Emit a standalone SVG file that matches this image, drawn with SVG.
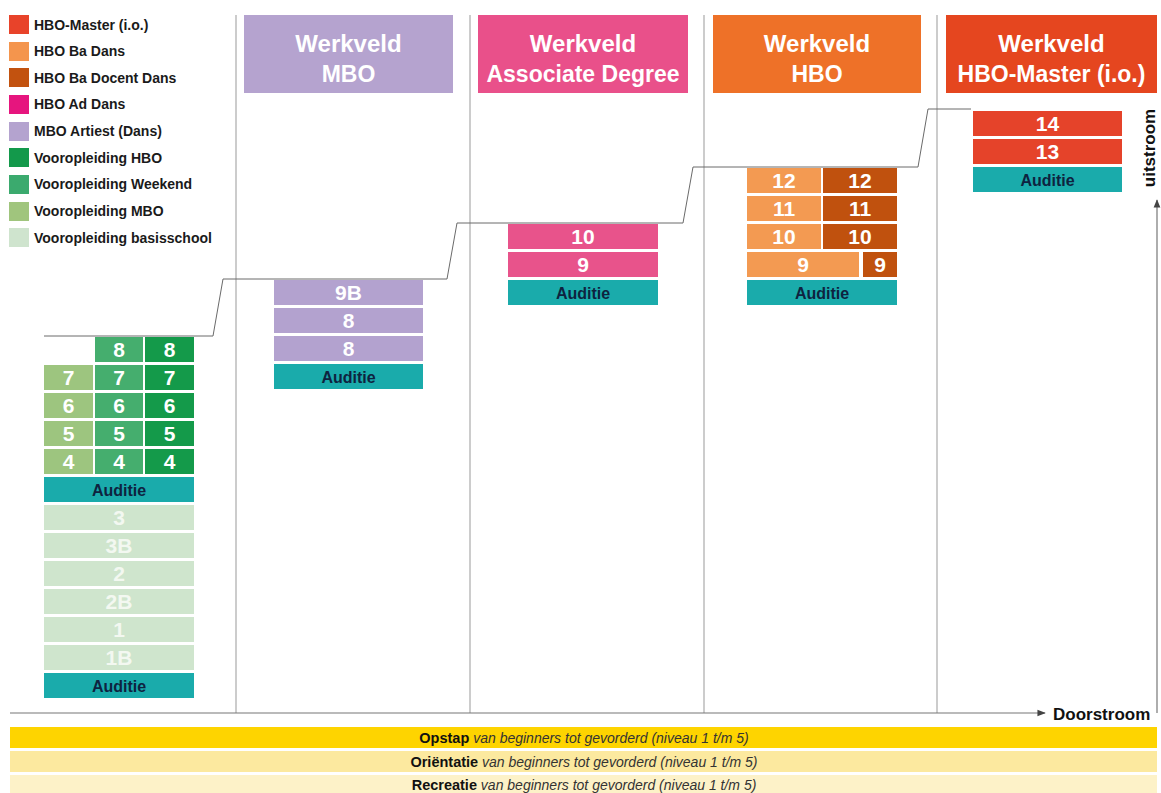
<svg xmlns="http://www.w3.org/2000/svg" width="1161" height="793" viewBox="0 0 1161 793">
<defs>
<style>
text{font-family:"Liberation Sans",Arial,sans-serif}
.lg{font-size:14px;font-weight:bold;fill:#1a1a1a}
.hd{font-size:23px;font-weight:bold;fill:#fff;text-anchor:middle}
.hw{font-size:24px}
.num{font-size:21px;font-weight:bold;fill:#fff;text-anchor:middle}
.numl{font-size:21px;font-weight:bold;fill:#f3f8f1;text-anchor:middle}
.aud{font-size:16px;font-weight:bold;fill:#0e2340;text-anchor:middle}
.teal{fill:#1aabab}
.div{stroke:#999;stroke-width:1;fill:none}
.step{stroke:#6a6a6a;stroke-width:1;fill:none}
.axis{stroke:#777;stroke-width:1.2;fill:none}
.bt{font-size:14.5px;text-anchor:middle;fill:#111}
.bt tspan.i{font-style:italic;font-weight:normal;fill:#333;font-size:14px}
</style>
<marker id="ah" viewBox="0 0 10 10" refX="9" refY="5" markerWidth="7" markerHeight="7" orient="auto">
<path d="M0,1 L10,5 L0,9 z" fill="#444"/>
</marker>
</defs>
<rect width="1161" height="793" fill="#fff"/>

<g id="legend">
<rect x="9" y="15" width="20" height="19" fill="#e8432a"/><text class="lg" x="34" y="30">HBO-Master (i.o.)</text>
<rect x="9" y="42" width="20" height="19" fill="#f4954d"/><text class="lg" x="34" y="56">HBO Ba Dans</text>
<rect x="9" y="68" width="20" height="19" fill="#c2520f"/><text class="lg" x="34" y="83">HBO Ba Docent Dans</text>
<rect x="9" y="95" width="20" height="19" fill="#e6157e"/><text class="lg" x="34" y="109">HBO Ad Dans</text>
<rect x="9" y="122" width="20" height="19" fill="#b4a3cf"/><text class="lg" x="34" y="136">MBO Artiest (Dans)</text>
<rect x="9" y="148" width="20" height="19" fill="#13994b"/><text class="lg" x="34" y="163">Vooropleiding HBO</text>
<rect x="9" y="175" width="20" height="19" fill="#3baa6e"/><text class="lg" x="34" y="189">Vooropleiding Weekend</text>
<rect x="9" y="202" width="20" height="19" fill="#a0c57d"/><text class="lg" x="34" y="216">Vooropleiding MBO</text>
<rect x="9" y="228" width="20" height="19" fill="#cfe4ce"/><text class="lg" x="34" y="243">Vooropleiding basisschool</text>
</g>

<g id="dividers">
<line class="div" x1="236" y1="15" x2="236" y2="713"/>
<line class="div" x1="470" y1="15" x2="470" y2="713"/>
<line class="div" x1="704" y1="15" x2="704" y2="713"/>
<line class="div" x1="937" y1="15" x2="937" y2="713"/>
</g>

<g id="header-mbo">
<rect x="244" y="15" width="209" height="78" fill="#b5a3cf"/>
<text class="hd hw" x="348.5" y="52">Werkveld</text><text class="hd" x="348.5" y="82">MBO</text>
</g>
<g id="header-ad">
<rect x="478" y="15" width="210" height="78" fill="#e9508a"/>
<text class="hd hw" x="583" y="52">Werkveld</text><text class="hd" x="583" y="82">Associate Degree</text>
</g>
<g id="header-hbo">
<rect x="713" y="15" width="208" height="78" fill="#ee7128"/>
<text class="hd hw" x="817" y="52">Werkveld</text><text class="hd" x="817" y="82">HBO</text>
</g>
<g id="header-master">
<rect x="946" y="15" width="211" height="78" fill="#e5461f"/>
<text class="hd hw" x="1051.5" y="52">Werkveld</text><text class="hd" x="1051.5" y="82">HBO-Master (i.o.)</text>
</g>

<g id="connectors">
<polyline class="step" points="44,336 213,336 223,279 447,279 457,223 683,223 693,167 918,167 928,109 971,109"/>
<line class="axis" x1="10" y1="713" x2="1045" y2="713" marker-end="url(#ah)"/>
<line class="axis" x1="1157" y1="713" x2="1157" y2="200" marker-end="url(#ah)"/>
</g>

<g id="stack-vooropleiding">
<g fill="#45ae6e">
<rect x="95" y="337" width="48" height="25"/><rect x="95" y="365" width="48" height="25"/><rect x="95" y="393" width="48" height="25"/><rect x="95" y="421" width="48" height="25"/><rect x="95" y="449" width="48" height="25"/>
</g>
<g fill="#149a4a">
<rect x="145" y="337" width="49" height="25"/><rect x="145" y="365" width="49" height="25"/><rect x="145" y="393" width="49" height="25"/><rect x="145" y="421" width="49" height="25"/><rect x="145" y="449" width="49" height="25"/>
</g>
<g fill="#9dc57f">
<rect x="44" y="365" width="49" height="25"/><rect x="44" y="393" width="49" height="25"/><rect x="44" y="421" width="49" height="25"/><rect x="44" y="449" width="49" height="25"/>
</g>
<text class="num" x="119" y="357">8</text><text class="num" x="169.5" y="357">8</text>
<text class="num" x="68.5" y="385">7</text><text class="num" x="119" y="385">7</text><text class="num" x="169.5" y="385">7</text>
<text class="num" x="68.5" y="413">6</text><text class="num" x="119" y="413">6</text><text class="num" x="169.5" y="413">6</text>
<text class="num" x="68.5" y="441">5</text><text class="num" x="119" y="441">5</text><text class="num" x="169.5" y="441">5</text>
<text class="num" x="68.5" y="469">4</text><text class="num" x="119" y="469">4</text><text class="num" x="169.5" y="469">4</text>
<rect class="teal" x="44" y="477" width="150" height="25"/><text class="aud" x="119" y="495.5">Auditie</text>
</g>

<g id="stack-basisschool">
<g fill="#cfe5cd">
<rect x="44" y="505" width="150" height="25"/><rect x="44" y="533" width="150" height="25"/><rect x="44" y="561" width="150" height="25"/><rect x="44" y="589" width="150" height="25"/><rect x="44" y="617" width="150" height="25"/><rect x="44" y="645" width="150" height="25"/>
</g>
<text class="numl" x="119" y="525">3</text>
<text class="numl" x="119" y="553">3B</text>
<text class="numl" x="119" y="581">2</text>
<text class="numl" x="119" y="609">2B</text>
<text class="numl" x="119" y="637">1</text>
<text class="numl" x="119" y="665">1B</text>
<rect class="teal" x="44" y="673" width="150" height="25"/><text class="aud" x="119" y="691.5">Auditie</text>
</g>

<g id="stack-mbo">
<g fill="#b3a2cf">
<rect x="274" y="280" width="149" height="25"/><rect x="274" y="308" width="149" height="25"/><rect x="274" y="336" width="149" height="25"/>
</g>
<text class="num" x="348.5" y="300">9B</text>
<text class="num" x="348.5" y="328">8</text>
<text class="num" x="348.5" y="356">8</text>
<rect class="teal" x="274" y="364" width="149" height="25"/><text class="aud" x="348.5" y="382.5">Auditie</text>
</g>

<g id="stack-ad">
<g fill="#e8538b">
<rect x="508" y="224" width="150" height="25"/><rect x="508" y="252" width="150" height="25"/>
</g>
<text class="num" x="583" y="244">10</text>
<text class="num" x="583" y="272">9</text>
<rect class="teal" x="508" y="280" width="150" height="25"/><text class="aud" x="583" y="298.5">Auditie</text>
</g>

<g id="stack-hbo">
<g fill="#f39a52">
<rect x="747" y="168" width="74" height="25"/><rect x="747" y="196" width="74" height="25"/><rect x="747" y="224" width="74" height="25"/><rect x="747" y="252" width="112" height="25"/>
</g>
<g fill="#c0510e">
<rect x="823" y="168" width="74" height="25"/><rect x="823" y="196" width="74" height="25"/><rect x="823" y="224" width="74" height="25"/><rect x="863" y="252" width="34" height="25"/>
</g>
<text class="num" x="784" y="188">12</text><text class="num" x="860" y="188">12</text>
<text class="num" x="784" y="216">11</text><text class="num" x="860" y="216">11</text>
<text class="num" x="784" y="244">10</text><text class="num" x="860" y="244">10</text>
<text class="num" x="803" y="272">9</text><text class="num" x="880" y="272">9</text>
<rect class="teal" x="747" y="280" width="150" height="25"/><text class="aud" x="822" y="298.5">Auditie</text>
</g>

<g id="stack-master">
<g fill="#e5432a">
<rect x="973" y="111" width="149" height="25"/><rect x="973" y="139" width="149" height="25"/>
</g>
<text class="num" x="1047.5" y="131">14</text>
<text class="num" x="1047.5" y="159">13</text>
<rect class="teal" x="973" y="167" width="149" height="25"/><text class="aud" x="1047.5" y="185.5">Auditie</text>
</g>

<g id="axis-labels">
<text x="1053" y="720" font-size="17" font-weight="bold" fill="#111">Doorstroom</text>
<text transform="translate(1155,148) rotate(-90)" font-size="17" font-weight="bold" fill="#111" text-anchor="middle">uitstroom</text>
</g>

<g id="bar-opstap">
<rect x="10" y="727" width="1147" height="21" fill="#fed400"/>
<text class="bt" x="584" y="743"><tspan font-weight="bold">Opstap</tspan><tspan class="i"> van beginners tot gevorderd (niveau 1 t/m 5)</tspan></text>
</g>
<g id="bar-orientatie">
<rect x="10" y="751" width="1147" height="21" fill="#fce99f"/>
<text class="bt" x="584" y="767"><tspan font-weight="bold">Oriëntatie</tspan><tspan class="i"> van beginners tot gevorderd (niveau 1 t/m 5)</tspan></text>
</g>
<g id="bar-recreatie">
<rect x="10" y="775" width="1147" height="18" fill="#fdf2c8"/>
<text class="bt" x="584" y="790"><tspan font-weight="bold">Recreatie</tspan><tspan class="i"> van beginners tot gevorderd (niveau 1 t/m 5)</tspan></text>
</g>
</svg>
